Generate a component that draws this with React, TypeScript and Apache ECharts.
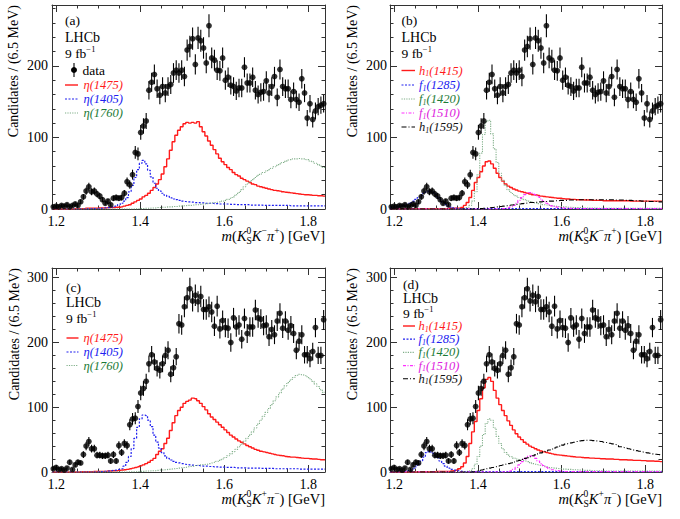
import React, { useEffect, useRef } from "react";
import * as echarts from "echarts";

// ---------- binning / axes ----------
const BIN_LOW = 1.19;
const BIN_WIDTH = 0.0065;
const N_BINS = 100;
const X_MIN = 1.19;
const X_MAX = 1.84;
const xMajorTicks = [1.2, 1.4, 1.6, 1.8];
const xMinorTicks = [1.25, 1.3, 1.35, 1.45, 1.5, 1.55, 1.65, 1.7, 1.75];
const yMaxTop = 285;
const yMaxBottom = 315;
const binCenters = Array.from({ length: N_BINS }, (_, i) => BIN_LOW + BIN_WIDTH * (i + 0.5));

// ---------- data: m(KS K- pi+) ----------
const dataKmPip = [
  3, 4, 3, 5, 4, 6, 3, 5, 7, 5,
  10, 17, 25, 31, 24, 25, 21, 18, 13, 8,
  11, 6, 15, 16, 15, 16, 22, 38, 34, 48,
  79, 77, 107, 116, 123, 166, 177, 188, 168, 159,
  171, 162, 171, 174, 190, 194, 190, 194, 185, 222,
  227, 238, 202, 239, 235, 225, 204, 256, 211, 208,
  194, 193, 211, 180, 184, 173, 171, 165, 169, 169,
  198, 176, 176, 184, 166, 160, 163, 164, 179, 162,
  171, 185, 156, 195, 171, 168, 168, 153, 164, 153,
  149, 182, 162, 127, 147, 125, 137, 143, 145, 147,
];
// ---------- data: m(KS K+ pi-) ----------
const dataKpPim = [
  5, 7, 4, 5, 3, 6, 15, 4, 11, 15,
  14, 27, 40, 47, 36, 36, 26, 26, 25, 25,
  26, 17, 27, 17, 41, 30, 44, 41, 73, 82,
  83, 101, 122, 129, 140, 167, 181, 170, 160, 157,
  167, 180, 188, 151, 161, 178, 229, 227, 255, 269,
  283, 264, 273, 263, 271, 251, 251, 255, 247, 225,
  256, 221, 234, 223, 222, 200, 238, 224, 227, 205,
  237, 214, 224, 224, 250, 238, 236, 226, 227, 209,
  220, 212, 233, 245, 222, 233, 219, 226, 214, 188,
  202, 212, 181, 181, 175, 186, 223, 180, 180, 235,
];

// ---------- panel (a) components ----------
const eta1475A = [
  0, 0, 0, 0, 0, 0, 0, 0, 0.5, 0.5,
  0.5, 0.5, 1, 1, 1, 1, 1, 1.5, 1.5, 1.5,
  2, 2, 2, 2.5, 2.5, 3, 4, 5, 6, 8,
  10, 12, 14, 17, 19, 22, 26, 30, 35, 41,
  49, 59, 70, 82, 94, 103, 110, 115, 119, 121,
  120, 121, 120, 122, 115, 108, 102, 95, 89, 83,
  77, 71, 66, 62, 58, 55, 51, 48, 46, 43,
  41, 39, 37, 35, 34, 32, 31, 30, 29, 28,
  27, 26, 25.5, 25, 24, 23.5, 23, 22.5, 22, 21.5,
  21, 20.5, 20, 20, 19.5, 19, 19, 18.5, 18.5, 18,
];
const eta1405A = [
  0, 0, 0, 0, 0, 0, 0, 0, 0, 0,
  0, 0, 0.3, 0.3, 0.5, 0.5, 0.7, 1, 1, 1.5,
  2, 2.5, 3, 4, 6, 8, 11, 16, 24, 33,
  44, 55, 64, 68, 63, 54, 45, 36, 29, 25,
  22, 19.5, 17.5, 15.5, 14, 13, 12, 11, 10.5, 10,
  10, 9.5, 9, 9, 8.5, 8.5, 8, 8, 8, 7.5,
  7.5, 7, 7, 7, 7, 6.5, 6.5, 6, 6, 6,
  6, 6, 5.5, 5.5, 5.5, 5.5, 5.5, 5, 5, 5,
  5, 5, 5, 5, 5, 5, 5, 4.5, 4.5, 4.5,
  4.5, 4.5, 4.5, 4.5, 4.5, 4.5, 4.5, 4.5, 4.5, 4.5,
];
const eta1760A = [
  0, 0, 0, 0, 0, 0, 0, 0, 0, 0,
  0, 0, 0, 0, 0, 0, 0, 0, 0, 0,
  0, 0, 0, 0, 0, 0, 0, 0, 0, 0,
  0.2, 0.3, 0.5, 0.7, 1, 1, 1.5, 1.5, 2, 2,
  2.5, 2.5, 3, 3, 3.5, 3.5, 4, 4, 4.5, 5,
  5, 5.5, 6, 6, 6.5, 7, 7.5, 8, 8.5, 9,
  9.5, 10, 11, 12, 13.5, 15, 17, 20, 23, 27,
  31, 35, 38, 41, 44, 47, 49, 51, 53, 55,
  57, 59, 61, 63, 65, 66.5, 68.5, 69, 70, 70,
  70.5, 70, 70, 69, 67, 66, 64, 62, 60, 58,
];

// ---------- panel (b) components ----------
const h1415B = [
  0.5, 0.5, 0.5, 0.5, 0.5, 0.5, 0.5, 0.5, 0.5, 0.5,
  0.5, 0.5, 0.5, 0.5, 0.5, 0.5, 0.5, 0.5, 0.5, 0.5,
  0.5, 1, 1, 1, 1, 1, 2, 5, 9, 16,
  26, 37, 44, 52, 60, 66, 67, 63, 57, 50,
  44, 39, 35, 32, 30, 28, 26.5, 25, 24, 23,
  22, 21, 20, 19.5, 19, 18, 17.5, 17, 16.5, 16,
  15.5, 15, 15, 14.5, 14, 14, 13.5, 13.5, 13, 13,
  13, 12.5, 12.5, 12.5, 12, 12, 12, 12, 11.5, 11.5,
  11.5, 11.5, 11.5, 11.5, 11.5, 11.5, 11.5, 11.5, 11, 11,
  11, 11, 11, 11, 11, 11, 11, 11, 11, 11,
];
const f1285B = [
  2, 2.5, 3, 3.5, 4.5, 5.5, 7, 9, 11, 13.5,
  16, 19, 22, 24, 25, 24, 21, 17, 13, 9,
  6, 4, 2.5, 1.5, 1, 0.7, 0.5, 0.5, 0.5, 0.5,
  0.5, 0.5, 0.5, 0.5, 0.5, 0.5, 0.5, 0.5, 0.5, 0.5,
  0.5, 0.5, 0.5, 0.5, 0.5, 0.5, 0.5, 0.5, 0.5, 0.5,
  0.5, 0.5, 0.5, 0.5, 0.5, 0.5, 0.5, 0.5, 0.5, 0.5,
  0.5, 0.5, 0.5, 0.5, 0.5, 0.5, 0.5, 0.5, 0.5, 0.5,
  0.5, 0.5, 0.5, 0.5, 0.5, 0.5, 0.5, 0.5, 0.5, 0.5,
  0.5, 0.5, 0.5, 0.5, 0.5, 0.5, 0.5, 0.5, 0.5, 0.5,
  0.5, 0.5, 0.5, 0.5, 0.5, 0.5, 0.5, 0.5, 0.5, 0.5,
];
const f1420B = [
  0, 0, 0, 0, 0, 0, 0, 0, 0, 0,
  0, 0, 0, 0, 0, 0, 0, 0, 0, 0,
  0, 0, 0, 0, 0, 0, 0.5, 1, 2, 5,
  11, 24, 48, 78, 104, 122, 124, 105, 84, 65,
  50, 40, 33, 27, 23, 20, 18, 16, 14.5, 13,
  11.5, 10.5, 9.5, 8.5, 7.5, 7, 6, 5.5, 5, 4.5,
  4, 3.5, 3.5, 3, 3, 2.5, 2.5, 2, 2, 2,
  2, 1.5, 1.5, 1.5, 1.5, 1.5, 1, 1, 1, 1,
  1, 1, 1, 1, 1, 1, 1, 1, 1, 1,
  1, 1, 1, 1, 1, 1, 1, 1, 1, 1,
];
const f1510B = [
  0, 0, 0, 0, 0, 0, 0, 0, 0, 0,
  0, 0, 0, 0, 0, 0, 0, 0, 0, 0,
  0, 0, 0, 0, 0, 0, 0, 0, 0, 0,
  0, 0, 0, 0, 0, 0, 0, 0, 0, 0,
  0, 0.5, 1, 2, 3, 5, 8, 12, 16, 20,
  22, 23, 22, 20, 17, 14, 11, 8, 6, 4.5,
  3.5, 2.5, 2, 1.5, 1, 1, 0.8, 0.8, 0.6, 0.6,
  0.5, 0.5, 0.5, 0.5, 0.5, 0.5, 0.5, 0.5, 0.5, 0.5,
  0.5, 0.5, 0.5, 0.5, 0.5, 0.5, 0.5, 0.5, 0.5, 0.5,
  0.5, 0.5, 0.5, 0.5, 0.5, 0.5, 0.5, 0.5, 0.5, 0.5,
];
const h1595B = [
  0, 0, 0, 0, 0, 0, 0, 0, 0, 0,
  0, 0, 0, 0, 0, 0, 0, 0, 0, 0,
  0, 0, 0, 0, 0, 0, 0, 0, 0, 0,
  0, 0.3, 0.5, 0.7, 1, 1.3, 1.7, 2, 2.5, 3,
  3.5, 4, 4.5, 5, 5.5, 6, 6.5, 7, 7.5, 8,
  8.5, 9, 9, 9.5, 10, 10, 10.5, 10.5, 11, 11,
  11.5, 11.5, 12, 12, 12, 12.5, 12.5, 12.5, 12.5, 13,
  13, 13, 13, 13, 13, 13, 13, 13, 13, 13,
  13, 13, 12.5, 12.5, 12.5, 12.5, 12, 12, 12, 11.5,
  11.5, 11.5, 11, 11, 11, 10.5, 10.5, 10.5, 10, 10,
];

// ---------- panel (c) components ----------
const eta1475C = [
  0, 0, 0, 0, 0, 0, 0, 0, 0, 0,
  0.3, 0.3, 0.5, 0.5, 0.5, 0.7, 0.7, 1, 1, 1,
  1.5, 1.5, 2, 2, 2.5, 3, 3.5, 4, 5, 6,
  7, 8, 9.5, 11, 13, 15, 18, 21, 27, 32,
  36, 44, 52, 64, 76, 87, 95, 100, 106, 109,
  111, 114, 113, 110, 106, 101, 96, 90, 85, 81,
  77, 73, 69, 65, 61, 57, 54, 51, 48, 46,
  43.5, 41, 39, 37, 35, 33.5, 32, 31, 30, 29,
  28, 27, 26, 25.5, 25, 24, 23.5, 23, 23, 22.5,
  22, 21.5, 21, 21, 20.5, 20, 20, 19.5, 19, 19,
];
const eta1405C = [
  0, 0, 0, 0, 0, 0, 0, 0, 0, 0,
  0, 0, 0, 0, 0, 0, 0.3, 0.5, 0.7, 1,
  1.5, 2, 2.5, 3, 4, 5, 9, 15, 24, 36,
  52, 69, 82, 88, 87, 80, 70, 57, 46, 37,
  30, 25, 21, 18.5, 16.5, 15, 14, 13, 12, 11.5,
  11, 10.5, 10, 10, 9.5, 9, 9, 8.5, 8.5, 8,
  8, 7.5, 7.5, 7, 7, 7, 7, 6.5, 6.5, 6.5,
  6.5, 6, 6, 6, 6, 6, 5.5, 5.5, 5.5, 5.5,
  5.5, 5, 5, 5, 5, 5, 5, 5, 5, 5,
  4.5, 4.5, 4.5, 4.5, 4.5, 4.5, 4.5, 4.5, 4.5, 4.5,
];
const eta1760C = [
  0, 0, 0, 0, 0, 0, 0, 0, 0, 0,
  0, 0, 0, 0, 0, 0, 0, 0, 0, 0,
  0, 0, 0, 0, 0, 0, 0, 0, 0.3, 0.5,
  0.5, 0.7, 1, 1, 1.5, 1.5, 2, 2, 2.5, 3,
  3, 3.5, 4, 4.5, 5, 5.5, 6, 6.5, 7, 8,
  8.5, 9, 10, 10.5, 11, 11.5, 12, 13, 14, 15,
  16.5, 18, 20, 22.5, 25, 28, 31.5, 35, 39, 43,
  47.5, 52, 57, 62, 68, 74, 80, 86, 92, 98,
  104, 110, 116, 122, 128, 133, 138, 142, 146, 149,
  151, 150, 149, 147, 144, 140, 136, 132, 127, 123,
];

// ---------- panel (d) components ----------
const h1415D = [
  0, 0, 0, 0, 0, 0, 0, 0, 0, 0,
  0.3, 0.3, 0.3, 0.5, 0.5, 0.5, 0.5, 0.7, 0.7, 0.7,
  1, 1, 1.5, 2, 3, 5, 8, 14, 24, 44,
  62, 78, 95, 113, 130, 143, 146, 140, 126, 114,
  104, 95, 87, 79, 72, 65, 59, 54, 50, 46,
  43, 40, 38, 36, 34, 32.5, 31, 30, 29, 28,
  27, 26.5, 26, 25.5, 25, 24.5, 24, 23.5, 23, 23,
  22.5, 22, 22, 21.5, 21.5, 21, 21, 20.5, 20.5, 20,
  20, 20, 19.5, 19.5, 19, 19, 19, 18.5, 18.5, 18,
  18, 18, 17.5, 17.5, 17, 17, 17, 16.5, 16.5, 16,
];
const f1285D = [
  0, 0, 0.3, 0.5, 0.7, 1, 2, 3, 5, 8,
  12, 17, 23, 30, 32, 29, 26, 22, 17, 13,
  9, 6, 4, 3, 2, 1.5, 1, 0.5, 0.5, 0.5,
  0.5, 0.5, 0.5, 0.5, 0.5, 0.5, 0.5, 0.5, 0.5, 0.5,
  0.5, 0.5, 0.5, 0.5, 0.5, 0.5, 0.5, 0.5, 0.5, 0.5,
  0.5, 0.5, 0.5, 0.5, 0.5, 0.5, 0.5, 0.5, 0.5, 0.5,
  0.5, 0.5, 0.5, 0.5, 0.5, 0.5, 0.5, 0.5, 0.5, 0.5,
  0.5, 0.5, 0.5, 0.5, 0.5, 0.5, 0.5, 0.5, 0.5, 0.5,
  0.5, 0.5, 0.5, 0.5, 0.5, 0.5, 0.5, 0.5, 0.5, 0.5,
  0.5, 0.5, 0.5, 0.5, 0.5, 0.5, 0.5, 0.5, 0.5, 0.5,
];
const f1420D = [
  0, 0, 0, 0, 0, 0, 0, 0, 0, 0,
  0, 0, 0, 0, 0, 0, 0, 0, 0, 0,
  0, 0, 0, 0, 0, 0, 0, 0, 1, 2,
  5, 12, 24, 40, 58, 75, 82, 80, 68, 55,
  44, 36, 30, 26, 23.5, 21.5, 20, 19, 18, 17,
  16, 14.5, 13, 12, 11, 10, 9, 8, 7, 6.5,
  6, 5.5, 5, 4.5, 4.5, 4, 4, 3.5, 3.5, 3,
  3, 2.5, 2.5, 2.5, 2, 2, 2, 2, 1.5, 1.5,
  1.5, 1.5, 1.5, 1.5, 1.5, 1.5, 1.5, 1.5, 1.5, 1.5,
  1.5, 1.5, 1.5, 1.5, 1.5, 1.5, 1.5, 1.5, 1.5, 1.5,
];
const f1510D = [
  0, 0, 0, 0, 0, 0, 0, 0, 0, 0,
  0, 0, 0, 0, 0, 0, 0, 0, 0, 0,
  0, 0, 0, 0, 0, 0, 0, 0, 0, 0,
  0, 0, 0, 0, 0, 0, 0, 0, 0, 0,
  0, 0, 0.5, 1, 2, 4, 7, 11, 16, 20,
  24, 25, 24, 21, 17, 13, 10, 7, 5, 3.5,
  2.5, 2, 1.5, 1, 0.8, 0.8, 0.8, 0.6, 0.6, 0.6,
  0.5, 0.5, 0.5, 0.5, 0.5, 0.5, 0.5, 0.5, 0.5, 0.5,
  0.5, 0.5, 0.5, 0.5, 0.5, 0.5, 0.5, 0.5, 0.5, 0.5,
  0.5, 0.5, 0.5, 0.5, 0.5, 0.5, 0.5, 0.5, 0.5, 0.5,
];
const h1595D = [
  0, 0, 0, 0, 0, 0, 0, 0, 0, 0,
  0, 0, 0, 0, 0, 0, 0, 0, 0, 0,
  0, 0, 0, 0, 0, 0, 0, 0, 0, 0,
  0.5, 1, 2, 3, 4, 5, 6, 7, 8, 9,
  10, 11, 12, 13, 14, 15.5, 17, 18, 19.5, 21,
  22, 23.5, 25, 26.5, 28, 29.5, 31, 32.5, 34, 35.5,
  37, 38.5, 40, 41.5, 43, 44, 45, 46, 47, 48,
  48.5, 49, 49, 49, 48.5, 48, 47.5, 47, 46, 45.5,
  44.5, 43.5, 42.5, 41.5, 39, 38, 37, 36, 35, 34,
  33, 32, 31, 30, 29.5, 29, 28, 27.5, 27, 26,
];

// ---------- styles ----------
const SERIF = '"Liberation Serif", "Times New Roman", serif';
const FRAME = "#333333";
const RED = "#ff1a1a";
const BLUE = "#2020f0";
const GREEN_LINE = "#7fae88";
const GREEN_TEXT = "#1b7a36";
const MAGENTA = "#ff30ff";
const MAGENTA_TEXT = "#dd20dd";
const BLACK = "#000000";

type Piece = { t: string; size: number; italic?: boolean; dy?: number; fill?: string; stack?: boolean };

let ctxCache: CanvasRenderingContext2D | null = null;
function measure(t: string, size: number, italic?: boolean): number {
  if (!ctxCache) ctxCache = document.createElement("canvas").getContext("2d");
  if (!ctxCache) return t.length * size * 0.5;
  ctxCache.font = `${italic ? "italic " : ""}${size}px ${SERIF}`;
  return ctxCache.measureText(t).width;
}

function textRow(pieces: Piece[], x: number, y: number, anchor: "left" | "right", fill: string): any[] {
  const starts: number[] = [];
  let cursor = 0;
  let prevStart = 0;
  let prevW = 0;
  pieces.forEach((p) => {
    const w = measure(p.t, p.size, p.italic);
    if (p.stack) {
      starts.push(prevStart);
      const mw = Math.max(prevW, w);
      cursor = prevStart + mw;
      prevW = mw;
    } else {
      starts.push(cursor);
      prevStart = cursor;
      prevW = w;
      cursor += w;
    }
  });
  const x0 = anchor === "left" ? x : x - cursor;
  return pieces.map((p, i) => ({
    type: "text",
    x: x0 + starts[i],
    y: y + (p.dy || 0),
    silent: true,
    z: 10,
    style: {
      text: p.t,
      fontSize: p.size,
      fontFamily: SERIF,
      fontStyle: p.italic ? "italic" : "normal",
      fill: p.fill || fill,
      align: "left",
      verticalAlign: "middle",
    },
  }));
}

const LS = 12.5; // legend font size
const etaName = (mass: string): Piece[] => [{ t: `η(${mass})`, size: LS, italic: true }];
const subName = (sym: string, mass: string): Piece[] => [
  { t: sym, size: LS, italic: true },
  { t: "1", size: 8, italic: true, dy: 3 },
  { t: `(${mass})`, size: LS, italic: true },
];

type Curve = { name: Piece[]; values: number[]; color: string; textColor: string; width: number; dash: number[] | null };

const curvesA: Curve[] = [
  { name: etaName("1475"), values: eta1475A, color: RED, textColor: RED, width: 1.4, dash: null },
  { name: etaName("1405"), values: eta1405A, color: BLUE, textColor: BLUE, width: 1.2, dash: [2, 1.5] },
  { name: etaName("1760"), values: eta1760A, color: GREEN_LINE, textColor: GREEN_TEXT, width: 1.1, dash: [1.2, 1.2] },
];
const curvesB: Curve[] = [
  { name: subName("h", "1415"), values: h1415B, color: RED, textColor: RED, width: 1.4, dash: null },
  { name: subName("f", "1285"), values: f1285B, color: BLUE, textColor: BLUE, width: 1.2, dash: [2, 1.5] },
  { name: subName("f", "1420"), values: f1420B, color: GREEN_LINE, textColor: GREEN_TEXT, width: 1.1, dash: [1.2, 1.2] },
  { name: subName("f", "1510"), values: f1510B, color: MAGENTA, textColor: MAGENTA_TEXT, width: 1.2, dash: [3, 1.5, 1, 1.5] },
  { name: subName("h", "1595"), values: h1595B, color: BLACK, textColor: "#111", width: 1.1, dash: [5, 2, 1, 2] },
];
const curvesC: Curve[] = [
  { name: etaName("1475"), values: eta1475C, color: RED, textColor: RED, width: 1.4, dash: null },
  { name: etaName("1405"), values: eta1405C, color: BLUE, textColor: BLUE, width: 1.2, dash: [2, 1.5] },
  { name: etaName("1760"), values: eta1760C, color: GREEN_LINE, textColor: GREEN_TEXT, width: 1.1, dash: [1.2, 1.2] },
];
const curvesD: Curve[] = [
  { name: subName("h", "1415"), values: h1415D, color: RED, textColor: RED, width: 1.4, dash: null },
  { name: subName("f", "1285"), values: f1285D, color: BLUE, textColor: BLUE, width: 1.2, dash: [2, 1.5] },
  { name: subName("f", "1420"), values: f1420D, color: GREEN_LINE, textColor: GREEN_TEXT, width: 1.1, dash: [1.2, 1.2] },
  { name: subName("f", "1510"), values: f1510D, color: MAGENTA, textColor: MAGENTA_TEXT, width: 1.2, dash: [3, 1.5, 1, 1.5] },
  { name: subName("h", "1595"), values: h1595D, color: BLACK, textColor: "#111", width: 1.1, dash: [5, 2, 1, 2] },
];

type Panel = {
  id: string;
  grid: { left: number; top: number; width: number; height: number };
  yMax: number;
  data: number[];
  charges: [string, string];
  curves: Curve[];
  labelX: number;
  labelYs: number[];
  legendYs: number[];
  dataLegendY?: number;
  lineX: [number, number];
  textX: number;
  yTitleX: number;
};

const panels: Panel[] = [
  { id: "(a)", grid: { left: 52, top: 5, width: 273, height: 204 }, yMax: yMaxTop, data: dataKmPip, charges: ["−", "+"], curves: curvesA,
    labelX: 65, labelYs: [20, 37, 53], legendYs: [85, 99, 113], dataLegendY: 70, lineX: [65, 78], textX: 83.5, yTitleX: 13 },
  { id: "(b)", grid: { left: 390, top: 5, width: 272, height: 204 }, yMax: yMaxTop, data: dataKmPip, charges: ["−", "+"], curves: curvesB,
    labelX: 401.5, labelYs: [20.5, 37, 53], legendYs: [70.5, 85, 99, 113, 127], lineX: [401.5, 415], textX: 419, yTitleX: 352.5 },
  { id: "(c)", grid: { left: 52, top: 268, width: 273, height: 204 }, yMax: yMaxBottom, data: dataKpPim, charges: ["+", "−"], curves: curvesC,
    labelX: 66, labelYs: [287, 302.5, 318], legendYs: [338, 352, 365.5], lineX: [66.5, 78.5], textX: 83.5, yTitleX: 14 },
  { id: "(d)", grid: { left: 390, top: 268, width: 272, height: 204 }, yMax: yMaxBottom, data: dataKpPim, charges: ["+", "−"], curves: curvesD,
    labelX: 403, labelYs: [284.5, 298, 313], legendYs: [326, 339.2, 352.4, 365.6, 378.8], lineX: [403, 415], textX: 418.5, yTitleX: 352 },
];

function stepData(vals: number[]): number[][] {
  const pts = vals.map((v, i) => [binCenters[i], v]);
  return [[X_MIN, vals[0]], ...pts, [X_MAX, vals[vals.length - 1]]];
}

function buildOption(): any {
  const grid: any[] = [];
  const xAxis: any[] = [];
  const yAxis: any[] = [];
  const series: any[] = [];
  const elements: any[] = [];
  const lineStyle = { color: FRAME, width: 1 };

  panels.forEach((p, g) => {
    grid.push({ ...p.grid, containLabel: false });
    const xBase = {
      gridIndex: g, type: "value", min: X_MIN, max: X_MAX,
      splitLine: { show: false }, minorSplitLine: { show: false },
    };
    xAxis.push({
      ...xBase, position: "bottom",
      axisLine: { show: true, onZero: false, lineStyle },
      axisTick: { show: true, inside: true, length: 7, customValues: xMajorTicks, lineStyle },
      axisLabel: { show: true, customValues: xMajorTicks, formatter: (v: number) => v.toFixed(1), margin: 5.5,
        fontSize: 14, fontFamily: SERIF, color: "#000" },
    });
    xAxis.push({
      ...xBase, position: "bottom",
      axisLine: { show: false, onZero: false },
      axisTick: { show: true, inside: true, length: 3.5, customValues: xMinorTicks, lineStyle },
      axisLabel: { show: false },
    });
    xAxis.push({
      ...xBase, position: "top",
      axisLine: { show: true, onZero: false, lineStyle },
      axisTick: { show: true, inside: true, length: 7, customValues: xMajorTicks, lineStyle },
      axisLabel: { show: false },
    });
    xAxis.push({
      ...xBase, position: "top",
      axisLine: { show: false, onZero: false },
      axisTick: { show: true, inside: true, length: 3.5, customValues: xMinorTicks, lineStyle },
      axisLabel: { show: false },
    });
    const yBase = {
      gridIndex: g, type: "value", min: 0, max: p.yMax, interval: 100,
      splitLine: { show: false }, minorSplitLine: { show: false },
      axisLine: { show: true, onZero: false, lineStyle },
      axisTick: { show: true, inside: true, length: 7, lineStyle },
      minorTick: { show: true, splitNumber: 5, length: 3.5, lineStyle },
    };
    yAxis.push({
      ...yBase, position: "left",
      axisLabel: { show: true, margin: g % 2 === 0 ? 4 : 3, fontSize: 14, fontFamily: SERIF, color: "#000",
        formatter: (v: number) => (Math.abs(v % 100) < 1e-6 ? String(v) : "") },
    });
    yAxis.push({ ...yBase, position: "right", axisLabel: { show: false } });

    const xi = 4 * g;
    const yi = 2 * g;
    p.curves.forEach((c) => {
      series.push({
        type: "line", xAxisIndex: xi, yAxisIndex: yi, data: stepData(c.values), step: "middle",
        symbol: "none", showSymbol: false, silent: true, z: 2, clip: true,
        lineStyle: { color: c.color, width: c.width, type: c.dash ? c.dash : "solid" },
      });
    });
    series.push({
      type: "custom", xAxisIndex: xi, yAxisIndex: yi, silent: true, z: 3,
      encode: { x: 0, y: 1 },
      data: p.data.map((v, i) => [binCenters[i], v, Math.sqrt(v)]),
      renderItem: (_params: any, api: any) => {
        const x = api.value(0);
        const y = api.value(1);
        const e = api.value(2);
        const p1 = api.coord([x, y - e]);
        const p2 = api.coord([x, y + e]);
        return { type: "line", shape: { x1: p1[0], y1: p1[1], x2: p2[0], y2: p2[1] }, style: { stroke: "#000", lineWidth: 1.1 } };
      },
    });
    series.push({
      type: "scatter", xAxisIndex: xi, yAxisIndex: yi, silent: true, z: 4,
      data: p.data.map((v, i) => [binCenters[i], v]),
      symbol: "circle", symbolSize: 5.8, itemStyle: { color: "#000" },
    });

    const right = p.grid.left + p.grid.width;
    const bottom = p.grid.top + p.grid.height;
    elements.push({
      type: "text", x: p.yTitleX, y: p.grid.top, rotation: Math.PI / 2, silent: true,
      style: { text: "Candidates / (6.5 MeV)", fontSize: 14, fontFamily: SERIF, fill: "#000", align: "right", verticalAlign: "middle" },
    });
    const TS = 14.5;
    elements.push(
      ...textRow(
        [
          { t: "m", size: TS, italic: true },
          { t: "(", size: TS },
          { t: "K", size: TS, italic: true },
          { t: "S", size: 9.5, dy: 5 },
          { t: "0", size: 9.5, dy: -5, stack: true },
          { t: "K", size: TS, italic: true },
          { t: p.charges[0], size: 9.5, dy: -5 },
          { t: "π", size: TS, italic: true },
          { t: p.charges[1], size: 9.5, dy: -5 },
          { t: ")", size: TS },
          { t: " [GeV]", size: TS },
        ],
        right, bottom + 26.5, "right", "#000"
      )
    );
    elements.push(...textRow([{ t: p.id, size: 13.5 }], p.labelX, p.labelYs[0], "left", "#000"));
    elements.push(...textRow([{ t: "LHCb", size: 14 }], p.labelX, p.labelYs[1], "left", "#000"));
    elements.push(...textRow([{ t: "9 fb", size: 13.5 }, { t: "−1", size: 8.5, dy: -4 }], p.labelX, p.labelYs[2], "left", "#000"));
    if (p.dataLegendY !== undefined) {
      const cx = 74;
      const cy = p.dataLegendY;
      elements.push({ type: "line", silent: true, shape: { x1: cx, y1: cy - 7, x2: cx, y2: cy + 7 }, style: { stroke: "#000", lineWidth: 1.1 } });
      elements.push({ type: "circle", silent: true, shape: { cx, cy, r: 3 }, style: { fill: "#000" } });
      elements.push(...textRow([{ t: "data", size: 13.5 }], 82.5, cy, "left", "#000"));
    }
    p.curves.forEach((c, k) => {
      const y = p.legendYs[k];
      elements.push({
        type: "line", silent: true,
        shape: { x1: p.lineX[0], y1: y, x2: p.lineX[1], y2: y },
        style: { stroke: c.color, lineWidth: c.width, lineDash: c.dash ? c.dash : null },
      });
      elements.push(...textRow(c.name, p.textX, y, "left", c.textColor));
    });
  });

  return {
    animation: false,
    backgroundColor: "#ffffff",
    grid,
    xAxis,
    yAxis,
    series,
    graphic: { elements },
  };
}

export default function App() {
  const ref = useRef<HTMLDivElement>(null);
  useEffect(() => {
    if (!ref.current) return;
    const chart = echarts.init(ref.current, undefined, { renderer: "svg" });
    chart.setOption(buildOption());
    return () => chart.dispose();
  }, []);
  return (
    <div
      ref={ref}
      style={{ position: "fixed", left: 0, top: 0, width: 680, height: 519, background: "#fff" }}
    />
  );
}
